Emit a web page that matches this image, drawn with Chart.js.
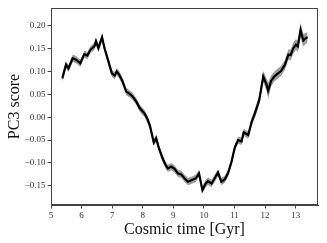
<!DOCTYPE html>
<html>
<head>
<meta charset="utf-8">
<script src="https://cdn.jsdelivr.net/npm/chart.js@4.4.0/dist/chart.umd.min.js"></script>
<style>
  html, body { margin: 0; padding: 0; background: #fff; }
  #wrap { width: 327px; height: 243px; }
</style>
</head>
<body>
<div id="wrap"><canvas id="myChart" width="327" height="243"></canvas></div>
<script>
// Cosmic time (Gyr) and PC3 score
const cosmicTime = [5.37, 5.49, 5.57, 5.71, 5.82, 5.96, 6.09, 6.19, 6.29, 6.42, 6.47, 6.55, 6.67, 6.75, 6.86,
    6.99, 7.08, 7.15, 7.22, 7.33, 7.46, 7.57, 7.66, 7.79, 7.90, 8.06, 8.16, 8.24, 8.36, 8.44, 8.52,
    8.66, 8.76, 8.82, 8.93, 9.04, 9.15, 9.26, 9.37, 9.48, 9.59, 9.73, 9.84, 9.95, 10.06, 10.13,
    10.25, 10.35, 10.46, 10.57, 10.68, 10.79, 10.90, 11.01, 11.12, 11.23, 11.30, 11.45, 11.56,
    11.67, 11.81, 11.94, 12.05, 12.10, 12.20, 12.30, 12.42, 12.52, 12.65, 12.76, 12.84, 12.92,
    13.01, 13.07, 13.16, 13.25, 13.33, 13.39];
const pc3Score = [0.085, 0.115, 0.107, 0.129, 0.126, 0.118, 0.138, 0.135, 0.148, 0.155, 0.166, 0.151, 0.175, 0.151, 0.126,
    0.096, 0.091, 0.100, 0.094, 0.080, 0.056, 0.051, 0.046, 0.034, 0.020, 0.008, -0.005, -0.020, -0.055, -0.046, -0.066,
    -0.092, -0.106, -0.112, -0.108, -0.113, -0.123, -0.125, -0.134, -0.141, -0.138, -0.134, -0.123, -0.159, -0.145, -0.140,
    -0.145, -0.134, -0.121, -0.141, -0.136, -0.122, -0.098, -0.066, -0.050, -0.053, -0.033, -0.039, -0.010,
    0.009, 0.038, 0.089, 0.071, 0.058, 0.080, 0.089, 0.096, 0.101, 0.115, 0.137, 0.136, 0.151,
    0.159, 0.155, 0.191, 0.168, 0.173, 0.175];
// spread of the grey band
const pc3Err = [0.008, 0.008, 0.008, 0.008, 0.008, 0.008, 0.008, 0.008, 0.008, 0.008, 0.008, 0.008, 0.009, 0.008, 0.008,
    0.008, 0.008, 0.008, 0.008, 0.008, 0.008, 0.008, 0.008, 0.008, 0.008, 0.008, 0.008, 0.008, 0.008, 0.008, 0.008,
    0.008, 0.008, 0.008, 0.008, 0.008, 0.008, 0.008, 0.008, 0.008, 0.008, 0.008, 0.008, 0.008, 0.008, 0.008,
    0.008, 0.008, 0.008, 0.008, 0.008, 0.008, 0.008, 0.008, 0.008, 0.008, 0.008, 0.008, 0.009,
    0.010, 0.010, 0.012, 0.014, 0.018, 0.012, 0.011, 0.011, 0.011, 0.011, 0.011, 0.012, 0.012,
    0.012, 0.012, 0.016, 0.014, 0.012, 0.011];

const xTicks = [5, 6, 7, 8, 9, 10, 11, 12, 13];
const yTicks = [-0.15, -0.10, -0.05, 0.00, 0.05, 0.10, 0.15, 0.20];

const pts = (ys) => cosmicTime.map((t, i) => ({ x: t, y: ys[i] }));
const upper = pc3Score.map((v, i) => v + pc3Err[i]);
const lower = pc3Score.map((v, i) => v - pc3Err[i]);

const serif = 'Liberation Serif';

// frame round the plot area
const frame = {
    id: 'frame',
    afterDraw(chart) {
        const a = chart.chartArea, c = chart.ctx;
        c.save();
        c.strokeStyle = '#444';
        c.lineWidth = 1;
        c.strokeRect(Math.round(a.left) + 0.5, Math.round(a.top) + 0.5,
            Math.round(a.right - a.left) - 1, Math.round(a.bottom - a.top) - 1);
        c.restore();
    }
};

const ctx = document.getElementById('myChart').getContext('2d');
const chart = new Chart(ctx, {
    type: 'line',
    data: {
        datasets: [{
            data: pts(pc3Score),
            borderColor: '#000',
            borderWidth: 2.2,
            pointRadius: 0,
            fill: false,
            tension: 0
        }, {
            data: pts(upper),
            borderWidth: 0,
            borderColor: 'rgba(0,0,0,0)',
            pointRadius: 0,
            backgroundColor: 'rgba(0,0,0,0.38)',
            fill: '+1',
            tension: 0
        }, {
            data: pts(lower),
            borderWidth: 0,
            borderColor: 'rgba(0,0,0,0)',
            pointRadius: 0,
            fill: false,
            tension: 0
        }]
    },
    options: {
        responsive: false,
        animation: false,
        layout: { padding: { left: 0, right: 9, top: 8, bottom: 0 } },
        plugins: { legend: { display: false }, tooltip: { enabled: false } },
        scales: {
            x: {
                type: 'linear',
                min: 5,
                max: 13.73,
                afterBuildTicks: s => { s.ticks = xTicks.map(v => ({ value: v })); },
                afterFit: s => { s.height = 38; },
                grid: { drawOnChartArea: false, tickLength: 3.5, color: '#444' },
                border: { color: '#444' },
                ticks: {
                    maxRotation: 0,
                    padding: 2,
                    color: '#333',
                    font: { family: serif, size: 9 },
                    callback: v => String(v)
                },
                title: {
                    display: true,
                    text: 'Cosmic time [Gyr]',
                    color: '#111',
                    padding: { top: 0, bottom: 4 },
                    font: { family: serif, size: 16 }
                }
            },
            y: {
                min: -0.192,
                max: 0.239,
                afterBuildTicks: s => { s.ticks = yTicks.map(v => ({ value: v })); },
                afterFit: s => { s.width = 51; },
                grid: { drawOnChartArea: false, tickLength: 3.5, color: '#444' },
                border: { color: '#444' },
                ticks: {
                    padding: 2,
                    color: '#333',
                    font: { family: serif, size: 9 },
                    callback: v => (v < 0 ? '\u2212' : '') + Math.abs(v).toFixed(2)
                },
                title: {
                    display: true,
                    text: 'PC3 score',
                    color: '#111',
                    padding: { top: 5, bottom: 0 },
                    font: { family: serif, size: 16 }
                }
            }
        }
    },
    plugins: [frame]
});
</script>
</body>
</html>
